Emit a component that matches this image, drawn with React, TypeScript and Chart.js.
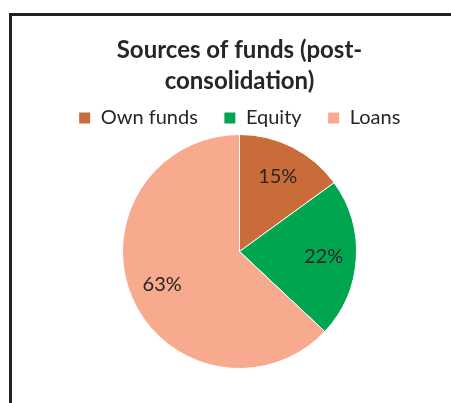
import React, { useEffect, useRef } from "react";
import { Chart, registerables } from "chart.js";

Chart.register(...registerables);

const categories = ["Own funds", "Equity", "Loans"];
const shares = [15, 22, 63];
const colors = ["#C96C3A", "#00A550", "#F8AA8E"];
const titleLines = ["Sources of funds (post-", "consolidation)"];

const FONT = "Lato, 'Open Sans', sans-serif";

const labelPlugin = {
  id: "sliceLabels",
  afterDatasetsDraw(chart: any) {
    const ctx = chart.ctx;
    const meta = chart.getDatasetMeta(0);
    const data = chart.data.datasets[0].data as number[];
    ctx.save();
    ctx.fillStyle = "#262626";
    ctx.font = `20px ${FONT}`;
    ctx.textAlign = "center";
    ctx.textBaseline = "middle";
    meta.data.forEach((arc: any, i: number) => {
      const p = arc.getProps(["x", "y", "startAngle", "endAngle", "outerRadius"], true);
      const mid = (p.startAngle + p.endAngle) / 2;
      const r = p.outerRadius * 0.72;
      ctx.fillText(`${data[i]}%`, p.x + Math.cos(mid) * r, p.y + Math.sin(mid) * r);
    });
    ctx.restore();
  },
};

export default function App() {
  const ref = useRef<HTMLCanvasElement>(null);
  useEffect(() => {
    document.body.style.margin = "0";
    const chart = new Chart(ref.current!, {
      type: "pie",
      data: {
        labels: categories,
        datasets: [
          {
            data: shares,
            backgroundColor: colors,
            borderColor: "#ffffff",
            borderWidth: 1,
          },
        ],
      },
      options: {
        animation: false,
        responsive: false,
        maintainAspectRatio: false,
        layout: { padding: { left: 28, right: 0, top: 20, bottom: 34 } },
        plugins: {
          title: {
            display: true,
            text: titleLines,
            color: "#262626",
            font: { family: FONT, size: 24, weight: "bold", lineHeight: 31 / 24 },
            padding: { top: 15, bottom: -15 },
          },
          legend: {
            position: "top",
            maxHeight: 52,
            labels: {
              color: "#262626",
              font: { family: FONT, size: 20 },
              boxWidth: 12,
              boxHeight: 12,
              padding: 26,
            },
          },
          tooltip: { enabled: false },
        },
      },
      plugins: [labelPlugin],
    });
    return () => chart.destroy();
  }, []);
  return (
    <div style={{ position: "relative", width: 451, height: 403, overflow: "hidden", background: "#fff" }}>
      <div
        style={{
          position: "absolute",
          left: 9,
          top: 13,
          width: 480,
          height: 440,
          border: "3px solid #231f20",
          boxSizing: "border-box",
        }}
      />
      <canvas ref={ref} width={451} height={403} style={{ position: "absolute", left: 0, top: 0 }} />
    </div>
  );
}
